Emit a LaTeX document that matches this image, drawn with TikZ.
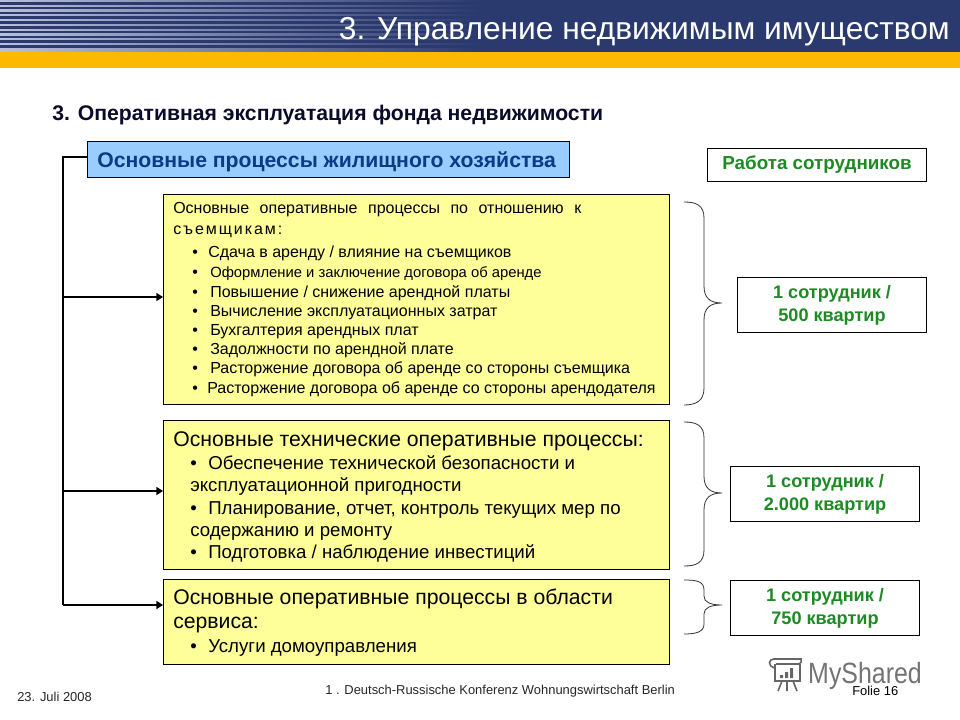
\documentclass[tikz,border=0pt]{standalone}
\usepackage{fontspec}
\setmainfont{Liberation Sans}
\usetikzlibrary{arrows.meta}
\definecolor{navy}{HTML}{2B3A6E}
\definecolor{palenavy}{HTML}{B8BFDA}
\definecolor{gold}{HTML}{FBBA00}
\definecolor{paleyellow}{HTML}{FFFF99}
\definecolor{paleblue}{HTML}{99CCFF}
\definecolor{headblue}{HTML}{0B3A86}
\definecolor{staffgreen}{HTML}{1E8A24}
\definecolor{inktext}{HTML}{0A0A2A}
\newcommand{\fs}[1]{\fontsize{#1}{#1}\selectfont}
\tikzset{
  px/.style={x=0.75pt,y=-0.75pt},
  yellowbox/.style={draw=black,line width=0.9pt,fill=paleyellow},
  staffbox/.style={draw=black,line width=0.8pt,fill=white,text=staffgreen,font=\bfseries\fs{13.6},align=center,inner sep=0pt},
  lineS/.style={anchor=base west,inner sep=0pt,text=black,font=\fs{12}},
  lineM/.style={anchor=base west,inner sep=0pt,text=black,font=\fs{14}},
  lineL/.style={anchor=base west,inner sep=0pt,text=black,font=\fs{15.9}},
  trunk/.style={line width=1.6pt,draw=black},
  feed/.style={line width=1.6pt,draw=black,-{Triangle[length=5pt,width=6pt]}},
  brace/.style={draw=black!80,line width=0.6pt},
  foot/.style={anchor=base west,inner sep=0pt,text=black!85,font=\fs{9.7}},
}
\begin{document}
\begin{tikzpicture}[px]
\useasboundingbox (0,0) rectangle (960,720);
% header
\fill[navy] (0,0) rectangle (960,52);
\shade[left color=palenavy,right color=navy] (0,0) rectangle (480,52);
\foreach \y in {2.5,7.3,...,50}{
  \shade[left color=navy,right color=navy] (0,\y) rectangle (480,\y+1.7);
}
\fill[gold] (0,52) rectangle (960,68);
\node[anchor=base east,inner sep=0pt,text=white,font=\fs{23.8}] (title) at (950,40) {3. Управление недвижимым имуществом};
% heading
\node[anchor=base west,inner sep=0pt,text=inktext,font=\bfseries\fs{15.9}] (heading) at (52,121) {3. Оперативная эксплуатация фонда недвижимости};
% blue box
\node[draw=black,line width=0.8pt,fill=paleblue,minimum width=482pt*0.75,minimum height=36pt*0.75,anchor=north west,inner sep=0pt] (mainbox) at (87,141) {};
\node[anchor=base west,inner sep=0pt,text=headblue,font=\bfseries\fs{15.9}] (maintext) at (97,168) {Основные процессы жилищного хозяйства};
% yellow boxes
\node[yellowbox,minimum width=506pt*0.75,minimum height=210pt*0.75,anchor=north west,inner sep=0pt] (boxA) at (163,194) {};
\node[yellowbox,minimum width=506pt*0.75,minimum height=149pt*0.75,anchor=north west,inner sep=0pt] (boxB) at (163,420) {};
\node[yellowbox,minimum width=506pt*0.75,minimum height=85pt*0.75,anchor=north west,inner sep=0pt] (boxC) at (163,579) {};
% box A text
\node[lineS] (a1) at (173,214) {\spaceskip=7.9pt Основные оперативные процессы по отношению к};
\node[lineS] (a2) at (173,235) {\addfontfeature{LetterSpace=12}съемщикам:};
\node[lineS] (ab1) at (192,258) {•};
\node[lineS] (at1) at (208,258) {Сдача в аренду / влияние на съемщиков};
\node[lineS] (ab2) at (192,277) {•};
\node[lineS,font=\fs{11.1}] (at2) at (210,277) {Оформление и заключение договора об аренде};
\node[lineS] (ab3) at (192,297) {•};
\node[lineS] (at3) at (210,297) {Повышение / снижение арендной платы};
\node[lineS] (ab4) at (192,316) {•};
\node[lineS] (at4) at (210,316) {Вычисление эксплуатационных затрат};
\node[lineS] (ab5) at (192,335) {•};
\node[lineS] (at5) at (210,335) {Бухгалтерия арендных плат};
\node[lineS] (ab6) at (192,354) {•};
\node[lineS] (at6) at (210,354) {Задолжности по арендной плате};
\node[lineS] (ab7) at (192,373) {•};
\node[lineS] (at7) at (210,373) {Расторжение договора об аренде со стороны съемщика};
\node[lineS] (ab8) at (192,393) {•};
\node[lineS] (at8) at (207,393) {Расторжение договора об аренде со стороны арендодателя};
% box B text
\node[lineL] (b0) at (173,446) {Основные технические оперативные процессы:};
\node[lineM] (bb1) at (190,469) {•};
\node[lineM] (bt1) at (208,469) {Обеспечение технической безопасности и};
\node[lineM] (bt1b) at (190,491) {эксплуатационной пригодности};
\node[lineM] (bb2) at (190,514) {•};
\node[lineM] (bt2) at (208,514) {Планирование, отчет, контроль текущих мер по};
\node[lineM] (bt2b) at (190,536) {содержанию и ремонту};
\node[lineM] (bb3) at (190,558) {•};
\node[lineM] (bt3) at (208,558) {Подготовка / наблюдение инвестиций};
% box C text
\node[lineL] (c0) at (173,604) {Основные оперативные процессы в области};
\node[lineL] (c1) at (173,628) {сервиса:};
\node[lineM] (cb1) at (190,652) {•};
\node[lineM] (ct1) at (208,652) {Услуги домоуправления};
% staff boxes
\node[staffbox,font=\bfseries\fs{14.1},minimum width=219pt*0.75,minimum height=33pt*0.75,anchor=north west] (staff0) at (707,148) {Работа сотрудников};
\node[staffbox,minimum width=189pt*0.75,minimum height=55pt*0.75,anchor=north west] (staff1) at (737,277) {1 сотрудник /\\[3.6pt]500 квартир};
\node[staffbox,minimum width=189pt*0.75,minimum height=55pt*0.75,anchor=north west] (staff2) at (730,466) {1 сотрудник /\\[3.6pt]2.000 квартир};
\node[staffbox,minimum width=189pt*0.75,minimum height=55pt*0.75,anchor=north west] (staff3) at (730,580) {1 сотрудник /\\[3.6pt]750 квартир};
% connectors
\coordinate (trunktop) at (63,157);
\coordinate (trunkbot) at (63,605);
\draw[trunk,line join=miter] (mainbox.west |- trunktop) -- (trunktop) -- (trunkbot);
\coordinate (jA) at (63,297);
\coordinate (jB) at (63,491);
\draw[feed] (jA) -- (boxA.west |- jA);
\draw[feed] (jB) -- (boxB.west |- jB);
\draw[feed] (trunkbot) -- (boxC.west |- trunkbot);
% braces
\coordinate (tipA) at (722,303);
\coordinate (tipB) at (722,493);
\coordinate (tipC) at (722,605);
\draw[brace] (684,202) .. controls (696,202) and (704,205) .. (704,218) -- (704,286) .. controls (704,298) and (710,303) .. (tipA) .. controls (710,303) and (704,308) .. (704,320) -- (704,388) .. controls (704,401) and (696,405) .. (684,405);
\draw[brace] (684,422) .. controls (696,422) and (704,425) .. (704,438) -- (704,476) .. controls (704,488) and (710,493) .. (tipB) .. controls (710,493) and (704,498) .. (704,510) -- (704,550) .. controls (704,563) and (696,566) .. (684,566);
\draw[brace] (684,580) .. controls (696,580) and (704,581) .. (704,590) -- (704,596) .. controls (704,602) and (710,605) .. (tipC) .. controls (710,605) and (704,608) .. (704,614) -- (704,624) .. controls (704,632) and (696,634) .. (684,634);
% footer
\node[foot] (date) at (17,701) {23. Juli 2008};
\node[foot] (conf) at (325,694) {1 . Deutsch-Russische Konferenz Wohnungswirtschaft Berlin};
% watermark
\node[anchor=base west,inner sep=0pt,text=black!55,transform shape,xscale=0.85,font=\fs{22}] (wm) at (808,683) {MyShared};
\begin{scope}[draw=black!60,line width=1.2pt]
  \draw (774,668) .. controls (768,666) and (768,659) .. (774,659) -- (801,659) .. controls (802,661) and (801,664) .. (799,664) -- (776,664);
  \draw (775,664) -- (775,681) -- (800,681) -- (800,664);
  \fill[black!60] (780,678) rectangle (783,675) (785,678) rectangle (788,672) (790,678) rectangle (793,668);
  \draw (782,681) -- (778,691) (787,681) -- (787,691) (793,681) -- (797,691);
\end{scope}
\node[foot,text=black] (folie) at (852,695) {Folie 16};
\end{tikzpicture}
\end{document}
